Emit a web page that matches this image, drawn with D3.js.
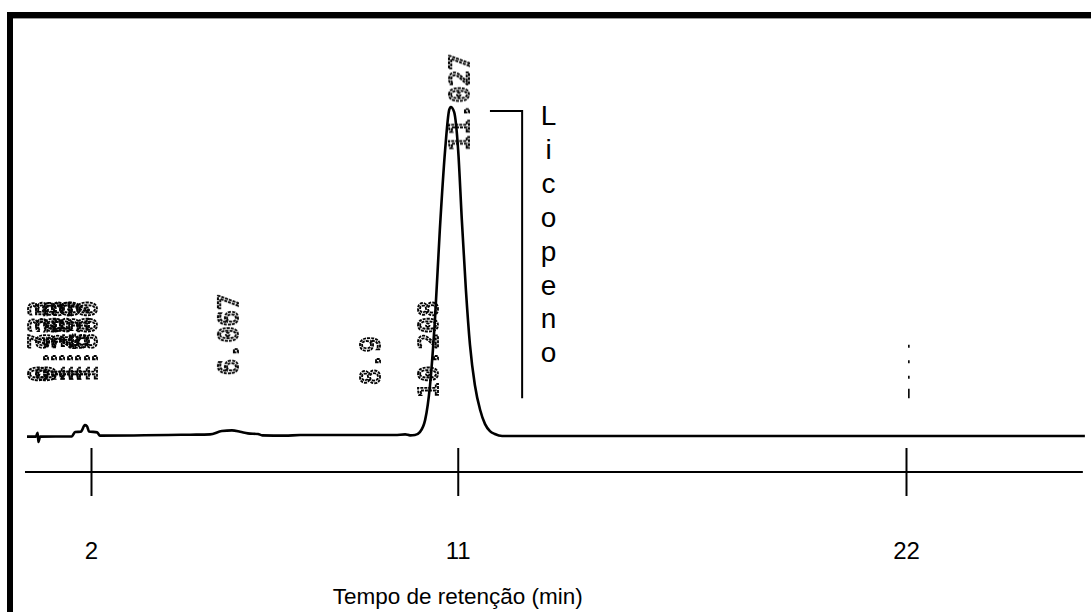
<!DOCTYPE html>
<html>
<head>
<meta charset="utf-8">
<script src="https://cdn.jsdelivr.net/npm/d3@7"></script>
<style>
  html, body { margin: 0; padding: 0; background: #fff; }
  svg { display: block; }
  .tick-label, .axis-title, .compound { font-family: "Liberation Sans", Arial, sans-serif; fill: #000; }
  .rt-labels { opacity: 0.99; }
  .rt-label { font-family: "DejaVu Sans Mono", monospace; fill: none; stroke: #000; stroke-width: 1.9; stroke-dasharray: 3 1; }
</style>
</head>
<body>
<div id="chart"></div>
<script>
// Chromatogram trace: time (min) and detector signal (apex = 100).
const traceTime = [0.43, 0.65, 0.69, 0.71, 0.75, 1.53, 1.61, 1.75, 1.85, 1.90, 1.95, 2.15, 2.22,
  4.43, 4.92, 5.21, 5.46, 5.66, 5.85, 6.10, 6.20, 6.76, 7.13, 9.46, 9.71, 9.83,
  9.95, 10.07, 10.20, 10.32, 10.44, 10.56, 10.69, 10.79, 10.83, 10.91, 11.01, 11.10,
  11.20, 11.30, 11.42, 11.55, 11.67, 11.79, 11.91, 12.09, 26.39];
const traceSignal = [-0.2, -0.2, 1.0, -1.8, -0.2, -0.1, 1.2, 1.3, 3.3, 3.0, 1.4, 1.1, 0.1,
  0.4, 0.5, 1.5, 1.7, 1.3, 0.8, 0.6, 0.2, 0.1, 0.3, 0.3, 0.5, 0.2,
  0.3, 1.2, 4.9, 15.5, 35.3, 62.6, 86.9, 99.1, 100, 98.5, 86.9, 65.7,
  44.4, 27.7, 15.5, 7.9, 3.6, 1.5, 0.6, 0, 0];

// Retention-time labels printed by the integrator.
const peakLabels = ["6.067", "8.9", "10.208", "11.027"];
const peakLabelTime = [5.36, 8.85, 10.27, 11.03];
const peakLabelLevel = [18.5, 15.5, 11.5, 86.5];

// Crowded labels near the solvent front.
const clusterLabels = ["0.733", "0.925", "1.108", "1.283", "1.450", "1.617", "1.800"];
const clusterTime = [0.70, 0.90, 1.10, 1.30, 1.50, 1.70, 1.92];
const clusterLevel = 16.4;

const xTicks = [2, 11, 22];
const compoundName = "Licopeno";

const width = 1091, height = 612;
const x = d3.scaleLinear().domain([2, 22]).range([91, 906]);
const y = d3.scaleLinear().domain([0, 100]).range([436, 107]);

const svg = d3.select("#chart").append("svg")
  .attr("width", width).attr("height", height);

// Frame (top and left edges only, as on the scan)
svg.append("rect").attr("x", 7).attr("y", 12).attr("width", width - 7).attr("height", 6).attr("fill", "#000");
svg.append("line").attr("x1", 13).attr("x2", width).attr("y1", 18.5).attr("y2", 18.5)
  .attr("stroke", "#999").attr("stroke-width", 1);
svg.append("rect").attr("x", 7).attr("y", 12).attr("width", 6).attr("height", height - 12).attr("fill", "#000");

// Time axis: plain line with ticks crossing it
const axisY = 472;
const ax = svg.append("g").attr("transform", `translate(0,${axisY})`)
  .call(d3.axisBottom(x).tickValues(xTicks).tickSize(24).tickFormat(d3.format("d")));
ax.select(".domain").remove();
ax.selectAll(".tick line").attr("y1", -24).attr("y2", 24).attr("stroke", "#000").attr("stroke-width", 2);
ax.selectAll(".tick text").attr("class", "tick-label").attr("y", 79).attr("dy", "0.35em")
  .attr("font-size", 24).attr("font-family", null);
ax.append("line").attr("x1", x(0.38)).attr("x2", x(26.34)).attr("y1", 0).attr("y2", 0)
  .attr("stroke", "#000").attr("stroke-width", 2);

svg.append("text").attr("class", "axis-title")
  .attr("x", x(11)).attr("y", 604).attr("text-anchor", "middle").attr("font-size", 22.5)
  .text("Tempo de retenção (min)");

// Trace
const pts = traceTime.map((t, i) => ({ t, s: traceSignal[i] }));
const line = d3.line().x((d) => x(d.t)).y((d) => y(d.s)).curve(d3.curveMonotoneX);
svg.append("path").datum(pts).attr("d", line)
  .attr("fill", "none").attr("stroke", "#000").attr("stroke-width", 2.6);

// Retention-time labels, rotated, read bottom to top
const labelG = svg.append("g").attr("class", "rt-labels");
function rtLabel(t, level, txt) {
  labelG.append("text").attr("class", "rt-label")
    .attr("transform", `translate(${x(t)},${y(level)}) rotate(-90)`)
    .attr("dy", "0.36em").attr("font-size", 27).text(txt);
}
peakLabels.forEach((txt, i) => rtLabel(peakLabelTime[i], peakLabelLevel[i], txt));
clusterLabels.forEach((txt, i) => rtLabel(clusterTime[i], clusterLevel, txt));

// Faint dotted mark at ~22 min
svg.append("line").attr("x1", x(22.07)).attr("x2", x(22.07))
  .attr("y1", y(27.7)).attr("y2", y(11.5))
  .attr("stroke", "#000").attr("stroke-width", 1.6).attr("stroke-dasharray", "3 12.5 3 12.5 3 10 12");

// Compound bracket and vertical name
const bracket = [{ t: 11.79, s: 98.8 }, { t: 12.58, s: 98.8 }, { t: 12.58, s: 11.5 }];
svg.append("path").datum(bracket)
  .attr("d", d3.line().x((d) => x(d.t)).y((d) => y(d.s)))
  .attr("fill", "none").attr("stroke", "#000").attr("stroke-width", 2);

svg.append("g").selectAll("text").data(compoundName.split("")).join("text")
  .attr("class", "compound").attr("font-size", 28).attr("text-anchor", "middle")
  .attr("x", x(13.23)).attr("y", (d, i) => 125 + i * 33.9).text((d) => d);
</script>
</body>
</html>
